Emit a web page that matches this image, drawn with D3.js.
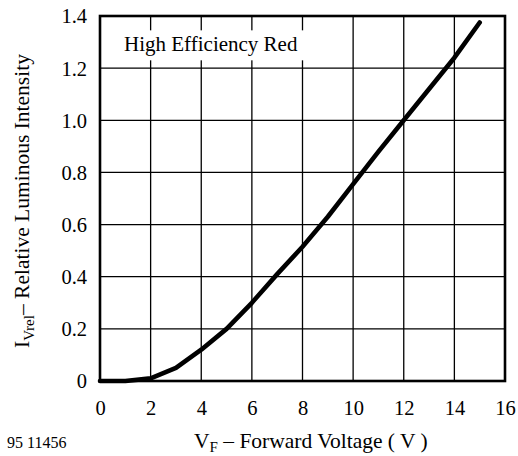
<!DOCTYPE html>
<html>
<head>
<meta charset="utf-8">
<script src="https://cdn.jsdelivr.net/npm/d3@7"></script>
<style>
  html, body { margin: 0; padding: 0; background: #fff; }
</style>
</head>
<body>
<svg id="chart" width="518" height="456"></svg>
<script>
// Data
const voltage = [0, 1, 2, 3, 4, 5, 6, 7, 8, 9, 10, 11, 12, 13, 14, 15];
const intensity = [0, 0, 0.01, 0.05, 0.12, 0.2, 0.3, 0.41, 0.515, 0.63, 0.755, 0.88, 1.0, 1.12, 1.24, 1.375];
const xTicks = [0, 2, 4, 6, 8, 10, 12, 14, 16];
const yTicks = [0, 0.2, 0.4, 0.6, 0.8, 1.0, 1.2, 1.4];
const legendLabel = "High Efficiency Red";
const figureCode = "95 11456";

const FONT = "'Liberation Serif', 'Times New Roman', serif";
const svg = d3.select("#chart");
const margin = { left: 100, right: 13, top: 16, bottom: 75 };
const W = 518, H = 456;
const x = d3.scaleLinear().domain([0, 16]).range([margin.left, W - margin.right]);
const y = d3.scaleLinear().domain([0, 1.4]).range([H - margin.bottom, margin.top]);

// grid
const grid = svg.append("g");
grid.selectAll("line.v").data(xTicks.slice(1, -1)).join("line")
  .attr("x1", d => x(d)).attr("x2", d => x(d))
  .attr("y1", y(0)).attr("y2", y(1.4))
  .attr("stroke", "#000").attr("stroke-width", 1.3);
grid.selectAll("line.h").data(yTicks.slice(1, -1)).join("line")
  .attr("y1", d => y(d)).attr("y2", d => y(d))
  .attr("x1", x(0)).attr("x2", x(16))
  .attr("stroke", "#000").attr("stroke-width", 1.3);

// legend box (white background covers grid)
svg.append("rect")
  .attr("x", x(0.3)).attr("y", y(1.345))
  .attr("width", x(8.2) - x(0.3)).attr("height", y(1.23) - y(1.345))
  .attr("fill", "#fff");
svg.append("text")
  .attr("x", x(0.95)).attr("y", y(1.264))
  .style("font-family", FONT).style("font-size", "21px")
  .text(legendLabel);

// frame
svg.append("rect")
  .attr("x", x(0)).attr("y", y(1.4))
  .attr("width", x(16) - x(0)).attr("height", y(0) - y(1.4))
  .attr("fill", "none").attr("stroke", "#000").attr("stroke-width", 2.6);

// axes tick labels using d3 axes
const xAxis = d3.axisBottom(x).tickValues(xTicks).tickSize(0).tickPadding(0).tickFormat(d3.format("d"));
const gx = svg.append("g").attr("transform", `translate(0,${y(0)})`).call(xAxis);
gx.attr("font-family", FONT).attr("font-size", 20.5);
gx.select(".domain").remove();
gx.selectAll("text").style("font-family", FONT).style("font-size", "20.5px")
  .attr("dy", null).attr("y", 34).attr("fill", "#000");

const yAxis = d3.axisLeft(y).tickValues(yTicks).tickSize(0).tickPadding(0)
  .tickFormat(d => d === 0 ? "0" : d3.format(".1f")(d));
const gy = svg.append("g").attr("transform", `translate(${x(0) - 13},0)`).call(yAxis);
gy.attr("font-family", FONT).attr("font-size", 20.5);
gy.select(".domain").remove();
gy.selectAll("text").style("font-family", FONT).style("font-size", "20.5px")
  .attr("dy", "0.34em").attr("fill", "#000");

// curve
const line = d3.line().x((d, i) => x(voltage[i])).y(d => y(d));
svg.append("path")
  .attr("d", line(intensity))
  .attr("fill", "none").attr("stroke", "#000")
  .attr("stroke-width", 4.6).attr("stroke-linecap", "round").attr("stroke-linejoin", "round");

// x label
const xl = svg.append("text").attr("x", 194).attr("y", 448)
  .style("font-family", FONT).style("font-size", "21.5px");
xl.append("tspan").text("V");
xl.append("tspan").style("font-size", "15px").attr("dy", 4).text("F");
xl.append("tspan").attr("dy", -4).text(" – Forward Voltage ( V )");

// y label
const yl = svg.append("text")
  .attr("transform", `translate(29,348) rotate(-90)`)
  .style("font-family", FONT).style("font-size", "21.5px");
yl.append("tspan").text("I");
yl.append("tspan").style("font-size", "15px").attr("dy", 5).text("Vrel");
yl.append("tspan").attr("dy", -5).text("– Relative Luminous Intensity");

// figure code
svg.append("text").attr("x", 7).attr("y", 448)
  .style("font-family", FONT).style("font-size", "16px").text(figureCode);
</script>
</body>
</html>
